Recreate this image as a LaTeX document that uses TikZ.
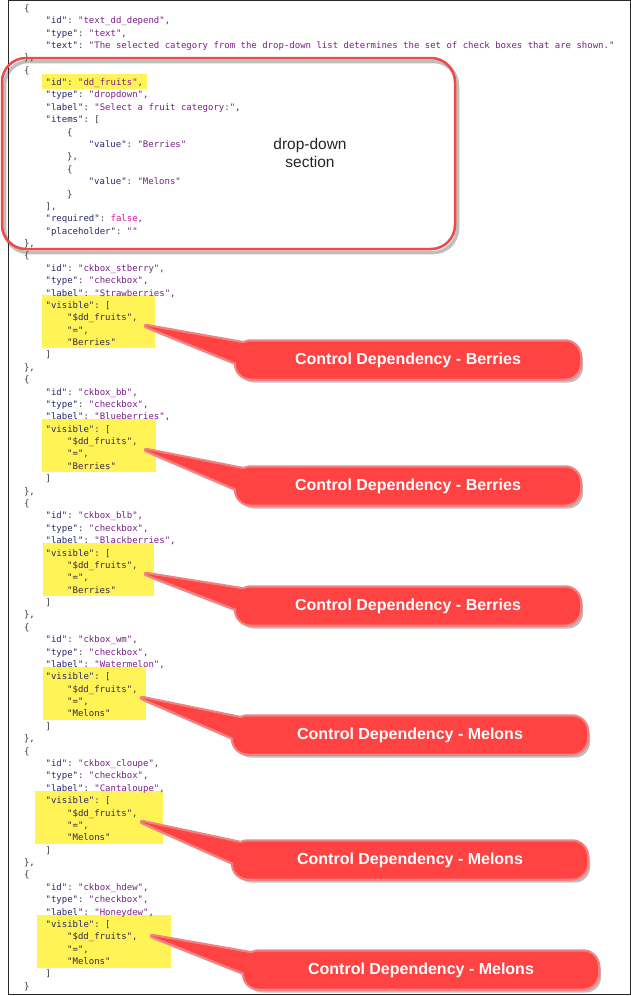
\documentclass[tikz,border=0pt]{standalone}
\usepackage{fontspec}
\setmainfont{Liberation Sans}
\setmonofont{DejaVu Sans Mono}
\usetikzlibrary{calc}
\definecolor{jpunct}{RGB}{60,60,60}
\definecolor{jkey}{RGB}{40,40,105}
\definecolor{jstr}{RGB}{122,32,135}
\definecolor{jfalse}{RGB}{225,20,160}
\definecolor{jarr}{RGB}{55,40,75}
\definecolor{hlyellow}{RGB}{255,243,85}
\definecolor{cfill}{RGB}{255,66,66}
\definecolor{cborder}{RGB}{240,130,130}
\definecolor{ddred}{RGB}{242,72,72}
\definecolor{shadowc}{RGB}{190,190,190}
\definecolor{framec}{RGB}{40,40,40}
\pgfdeclarelayer{bgL}
\pgfdeclarelayer{hlL}
\pgfdeclarelayer{shadowL}
\pgfdeclarelayer{borderL}
\pgfdeclarelayer{fillL}
\pgfsetlayers{bgL,hlL,shadowL,borderL,fillL,main}
\newcommand\jk[1]{\textcolor{jkey}{"#1"}}
\newcommand\jv[1]{\textcolor{jstr}{"#1"}}
\newcommand\ja[1]{\textcolor{jarr}{"#1"}}
\newcommand\jb[1]{\textcolor{jfalse}{#1}}
\newcommand\cl[3]{\node[code] (l#1) at ({24+#2*21.6},{11.3+#1*12.38}) {#3};}
\newcommand\drawcallout[2]{%
  \begin{pgfonlayer}{shadowL}
    \fill[shadowc,rounded corners=15] ($(#1.north west)+(3,4)$) rectangle ($(#1.south east)+(3,4)$);
    \fill[shadowc] ($(#2)+(3,4)$) -- ($(#1.north west)+(17,7)$) -- ($(#1.north west)+(5,26)$) -- cycle;
  \end{pgfonlayer}
  \begin{pgfonlayer}{borderL}
    \draw[cborder,line width=4.5,rounded corners=15] (#1.north west) rectangle (#1.south east);
    \draw[cborder,line width=4.5,line join=round] (#2) -- ($(#1.north west)+(14,3)$) -- ($(#1.north west)+(2,22)$) -- cycle;
  \end{pgfonlayer}
  \begin{pgfonlayer}{fillL}
    \fill[cfill,rounded corners=15] (#1.north west) rectangle (#1.south east);
    \fill[cfill] (#2) -- ($(#1.north west)+(14,3)$) -- ($(#1.north west)+(2,22)$) -- cycle;
  \end{pgfonlayer}}
\begin{document}
\begin{tikzpicture}[x=1pt,y=-1pt,
  code/.style={anchor=base west,inner sep=0pt,outer sep=0pt,font=\ttfamily\fontsize{9}{11}\selectfont,text=jpunct},
  hl/.style={fill=hlyellow,draw=none,inner sep=0pt,outer sep=0pt,anchor=north west},
  callout/.style={font=\fontsize{16}{18}\selectfont\bfseries,text=white,minimum height=37,inner sep=0pt,outer sep=0pt},
  ddbox/.style={draw=ddred,line width=2.5,rounded corners=24,inner sep=0pt,outer sep=0pt},
  ddlabel/.style={align=center,font=\fontsize{15.5}{18}\selectfont,text=black!85,inner sep=0pt}]
\begin{pgfonlayer}{bgL}
\fill[white] (0,0) rectangle (631,996);
\end{pgfonlayer}
\useasboundingbox (0,0) rectangle (631,996);
\draw[framec,line width=1.2] (8.5,0.8) rectangle (630.2,994.5);
% highlights
\begin{pgfonlayer}{hlL}
\node[hl,minimum width=105,minimum height=15] (h0) at (42,74) {};
\node[hl,minimum width=113,minimum height=53] (h1) at (42,295) {};
\node[hl,minimum width=114,minimum height=53] (h2) at (42,419) {};
\node[hl,minimum width=111,minimum height=53] (h3) at (43,543) {};
\node[hl,minimum width=103,minimum height=53] (h4) at (43,667) {};
\node[hl,minimum width=128,minimum height=53] (h5) at (35,791) {};
\node[hl,minimum width=134,minimum height=53] (h6) at (37,915) {};
\end{pgfonlayer}
% code lines
\cl{0}{0}{\{}
\cl{1}{1}{\jk{id}: \jv{text\_dd\_depend},}
\cl{2}{1}{\jk{type}: \jv{text},}
\cl{3}{1}{\jk{text}: \jv{The selected category from the drop-down list determines the set of check boxes that are shown.}}
\cl{4}{0}{\},}
\cl{5}{0}{\{}
\cl{6}{1}{\jk{id}: \jv{dd\_fruits},}
\cl{7}{1}{\jk{type}: \jv{dropdown},}
\cl{8}{1}{\jk{label}: \jv{Select a fruit category:},}
\cl{9}{1}{\jk{items}: [}
\cl{10}{2}{\{}
\cl{11}{3}{\jk{value}: \jv{Berries}}
\cl{12}{2}{\},}
\cl{13}{2}{\{}
\cl{14}{3}{\jk{value}: \jv{Melons}}
\cl{15}{2}{\}}
\cl{16}{1}{],}
\cl{17}{1}{\jk{required}: \jb{false},}
\cl{18}{1}{\jk{placeholder}: \jv{}}
\cl{19}{0}{\},}
%
\cl{20}{0}{\{}
\cl{21}{1}{\jk{id}: \jv{ckbox\_stberry},}
\cl{22}{1}{\jk{type}: \jv{checkbox},}
\cl{23}{1}{\jk{label}: \jv{Strawberries},}
\cl{24}{1}{\jk{visible}: [}
\cl{25}{2}{\ja{\$dd\_fruits},}
\cl{26}{2}{\ja{=},}
\cl{27}{2}{\ja{Berries}}
\cl{28}{1}{]}
\cl{29}{0}{\},}
%
\cl{30}{0}{\{}
\cl{31}{1}{\jk{id}: \jv{ckbox\_bb},}
\cl{32}{1}{\jk{type}: \jv{checkbox},}
\cl{33}{1}{\jk{label}: \jv{Blueberries},}
\cl{34}{1}{\jk{visible}: [}
\cl{35}{2}{\ja{\$dd\_fruits},}
\cl{36}{2}{\ja{=},}
\cl{37}{2}{\ja{Berries}}
\cl{38}{1}{]}
\cl{39}{0}{\},}
%
\cl{40}{0}{\{}
\cl{41}{1}{\jk{id}: \jv{ckbox\_blb},}
\cl{42}{1}{\jk{type}: \jv{checkbox},}
\cl{43}{1}{\jk{label}: \jv{Blackberries},}
\cl{44}{1}{\jk{visible}: [}
\cl{45}{2}{\ja{\$dd\_fruits},}
\cl{46}{2}{\ja{=},}
\cl{47}{2}{\ja{Berries}}
\cl{48}{1}{]}
\cl{49}{0}{\},}
%
\cl{50}{0}{\{}
\cl{51}{1}{\jk{id}: \jv{ckbox\_wm},}
\cl{52}{1}{\jk{type}: \jv{checkbox},}
\cl{53}{1}{\jk{label}: \jv{Watermelon},}
\cl{54}{1}{\jk{visible}: [}
\cl{55}{2}{\ja{\$dd\_fruits},}
\cl{56}{2}{\ja{=},}
\cl{57}{2}{\ja{Melons}}
\cl{58}{1}{]}
\cl{59}{0}{\},}
%
\cl{60}{0}{\{}
\cl{61}{1}{\jk{id}: \jv{ckbox\_cloupe},}
\cl{62}{1}{\jk{type}: \jv{checkbox},}
\cl{63}{1}{\jk{label}: \jv{Cantaloupe},}
\cl{64}{1}{\jk{visible}: [}
\cl{65}{2}{\ja{\$dd\_fruits},}
\cl{66}{2}{\ja{=},}
\cl{67}{2}{\ja{Melons}}
\cl{68}{1}{]}
\cl{69}{0}{\},}
%
\cl{70}{0}{\{}
\cl{71}{1}{\jk{id}: \jv{ckbox\_hdew},}
\cl{72}{1}{\jk{type}: \jv{checkbox},}
\cl{73}{1}{\jk{label}: \jv{Honeydew},}
\cl{74}{1}{\jk{visible}: [}
\cl{75}{2}{\ja{\$dd\_fruits},}
\cl{76}{2}{\ja{=},}
\cl{77}{2}{\ja{Melons}}
\cl{78}{1}{]}
\cl{79}{0}{\}}
% drop-down section box
\begin{pgfonlayer}{shadowL}
\node[draw=shadowc,line width=3.5,rounded corners=24,inner sep=0pt,outer sep=0pt,minimum width=453,minimum height=191] (ddsh) at (231,157) {};
\end{pgfonlayer}
\node[ddbox,minimum width=453,minimum height=191] (dd) at (228.5,153.5) {};
\node[ddlabel] (ddl) at (310,153) {drop-down\\section};
% callouts
\coordinate (tp1) at (146,326);
\coordinate (tp2) at (146,450);
\coordinate (tp3) at (146,574);
\coordinate (tp4) at (142,698);
\coordinate (tp5) at (142,822);
\coordinate (tp6) at (152,936);
\node[callout,minimum width=344] (c1) at (408,360) {Control Dependency - Berries};
\node[callout,minimum width=344] (c2) at (408,486) {Control Dependency - Berries};
\node[callout,minimum width=344] (c3) at (408,606) {Control Dependency - Berries};
\node[callout,minimum width=354] (c4) at (410,735) {Control Dependency - Melons};
\node[callout,minimum width=354] (c5) at (410,860) {Control Dependency - Melons};
\node[callout,minimum width=354] (c6) at (421,970) {Control Dependency - Melons};
\drawcallout{c1}{tp1}
\drawcallout{c2}{tp2}
\drawcallout{c3}{tp3}
\drawcallout{c4}{tp4}
\drawcallout{c5}{tp5}
\drawcallout{c6}{tp6}
\end{tikzpicture}
\end{document}
